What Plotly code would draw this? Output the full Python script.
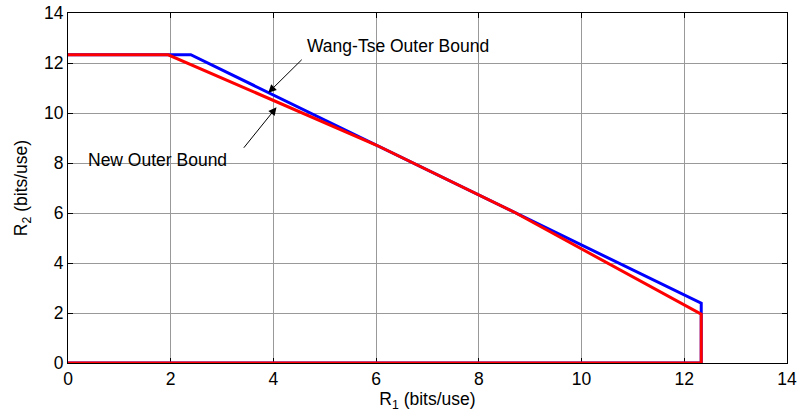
import plotly.graph_objects as go

# Outer-bound regions (bits/use)
wang_tse_r1 = [0, 2.39, 12.33, 12.33, 0]
wang_tse_r2 = [12.33, 12.33, 2.39, 0, 0]
new_r1 = [0, 1.95, 6.0, 8.72, 12.33, 12.33, 0]
new_r2 = [12.33, 12.33, 8.72, 6.0, 1.95, 0, 0]

ticks = [0, 2, 4, 6, 8, 10, 12, 14]
FONT = "Liberation Sans, Arial, sans-serif"
FS = 17.5

fig = go.Figure()
fig.add_trace(go.Scatter(x=wang_tse_r1, y=wang_tse_r2, mode="lines",
                         line=dict(color="#0000ff", width=3), cliponaxis=False,
                         name="Wang-Tse Outer Bound"))
fig.add_trace(go.Scatter(x=new_r1, y=new_r2, mode="lines",
                         line=dict(color="#ff0000", width=3), cliponaxis=False,
                         name="New Outer Bound"))

axis_style = dict(
    range=[0, 14], tickvals=ticks, ticktext=[str(t) for t in ticks],
    showgrid=True, gridcolor="#999999", gridwidth=1,
    showline=True, linecolor="black", linewidth=1, mirror="allticks",
    ticks="inside", ticklen=5, tickcolor="black",
    zeroline=False, tickfont=dict(family=FONT, size=FS, color="black"),
    layer="below traces", automargin=False,
)

fig.update_xaxes(**axis_style,
                 title=dict(text="R<sub>1</sub> (bits/use)", standoff=4,
                            font=dict(family=FONT, size=FS, color="black")))
fig.update_yaxes(**axis_style,
                 title=dict(text="R<sub>2</sub> (bits/use)", standoff=11,
                            font=dict(family=FONT, size=FS, color="black")))

# arrows pointing at each bound
fig.add_annotation(x=3.90, y=10.81, ax=4.58, ay=12.19, axref="x", ayref="y",
                   text="", showarrow=True, arrowhead=2, arrowsize=1.6,
                   arrowwidth=1, arrowcolor="black")
fig.add_annotation(x=4.06, y=10.23, ax=3.40, ay=8.55, axref="x", ayref="y",
                   text="", showarrow=True, arrowhead=2, arrowsize=1.6,
                   arrowwidth=1, arrowcolor="black")
fig.add_annotation(x=4.61, y=12.68, text="Wang-Tse Outer Bound", showarrow=False,
                   xanchor="left", yanchor="middle",
                   font=dict(family=FONT, size=FS, color="black"))
fig.add_annotation(x=0.36, y=8.12, text="New Outer Bound", showarrow=False,
                   xanchor="left", yanchor="middle",
                   font=dict(family=FONT, size=FS, color="black"))

fig.update_layout(
    width=803, height=418,
    margin=dict(l=68, r=16, t=13, b=55),
    paper_bgcolor="white", plot_bgcolor="white",
    showlegend=False,
)

fig.write_html("out.html")
